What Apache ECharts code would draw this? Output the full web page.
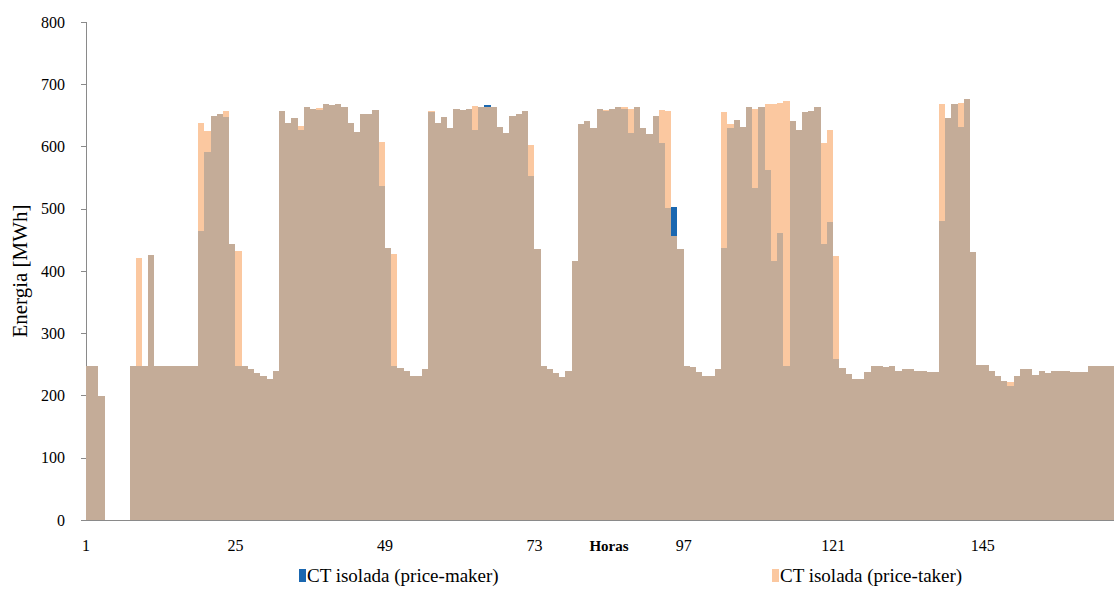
<!DOCTYPE html>
<html>
<head>
<meta charset="utf-8">
<script src="https://cdn.jsdelivr.net/npm/echarts@6/dist/echarts.min.js"></script>
<style>
  html, body { margin: 0; padding: 0; background: #ffffff; }
  #chart { width: 1114px; height: 589px; }
  /* hard pixel edges so neighbouring bars join without seams */
  #chart svg path { shape-rendering: crispEdges; }
</style>
</head>
<body>
<div id="chart"></div>
<script>
// Hourly categories of the week (1 … 168)
const hours = Array.from({ length: 168 }, (_, i) => String(i + 1));

// Hourly energy [MWh], one row per day
const priceMaker = [
  248, 248, 200,   0,   0,   0,   0, 248, 248, 248, 426, 248, 248, 248, 248, 248, 248, 248, 465, 591, 649, 653, 648, 443,
  248, 248, 243, 236, 231, 226, 240, 657, 637, 645, 626, 663, 660, 658, 669, 666, 668, 664, 637, 624, 653, 653, 659, 537,
  437, 248, 244, 239, 232, 232, 243, 655, 637, 647, 629, 660, 658, 661, 627, 664, 667, 664, 632, 621, 649, 653, 657, 553,
  435, 248, 243, 236, 230, 240, 416, 636, 641, 629, 660, 657, 661, 663, 660, 622, 663, 630, 620, 649, 605, 502, 503, 435,
  248, 245, 238, 231, 231, 243, 437, 629, 643, 632, 663, 534, 663, 563, 416, 461, 247, 641, 627, 655, 657, 663, 443, 479,
  259, 244, 235, 226, 226, 237, 248, 248, 246, 248, 240, 242, 242, 240, 240, 237, 237, 480, 645, 668, 632, 676, 430, 249,
  249, 239, 231, 224, 216, 232, 243, 243, 233, 240, 236, 240, 240, 240, 237, 237, 237, 248, 248, 248, 248, 248, 248, 248
];

const priceTaker = [
  248, 248, 200,   0,   0,   0,   0, 248, 421, 248, 426, 248, 248, 248, 248, 248, 248, 248, 637, 625, 649, 653, 657, 443,
  432, 248, 243, 236, 231, 226, 240, 657, 637, 645, 633, 663, 660, 662, 669, 666, 668, 664, 637, 624, 653, 653, 659, 607,
  437, 427, 244, 239, 232, 232, 243, 657, 637, 647, 629, 660, 658, 661, 665, 664, 663, 664, 632, 621, 649, 653, 657, 602,
  435, 248, 243, 236, 230, 240, 416, 636, 641, 629, 660, 659, 661, 663, 663, 661, 663, 630, 620, 649, 658, 657, 456, 435,
  248, 245, 238, 231, 231, 243, 655, 636, 643, 632, 663, 660, 663, 668, 668, 670, 673, 641, 627, 655, 657, 663, 606, 626,
  424, 244, 235, 226, 226, 237, 248, 248, 246, 248, 240, 242, 242, 240, 240, 237, 237, 668, 645, 668, 670, 676, 430, 249,
  249, 239, 231, 224, 221, 232, 243, 243, 233, 240, 236, 240, 240, 240, 237, 237, 237, 248, 248, 248, 248, 248, 248, 248
];

// Y-axis range
const yMin = 0, yMax = 800, yStep = 100;

const MAKER_NAME = 'CT isolada (price-maker)';
const TAKER_NAME = 'CT isolada (price-taker)';

const MAKER_COLOR = '#1a67b0';
const TAKER_COLOR = '#fbc8a0';
const SHARED_COLOR = '#c4ac98';
const AXIS_COLOR = '#8a8a8a';
const FONT = 'Liberation Serif';

// Part of each hour produced under both bidding strategies
const shared = priceMaker.map((v, i) => Math.min(v, priceTaker[i]));

const chart = echarts.init(document.getElementById('chart'), null, { renderer: 'svg' });

const barBase = {
  type: 'bar',
  barGap: '-100%',
  barCategoryGap: '0%',
  animation: false
};

const legendBase = {
  top: 561,
  icon: 'rect', itemWidth: 7, itemHeight: 13,
  textStyle: { fontFamily: FONT, fontSize: 19, color: '#000', padding: [0, 0, 0, -4] }
};

chart.setOption({
  animation: false,
  textStyle: { fontFamily: FONT },
  grid: { left: 86, top: 22, right: -18, bottom: 69, outerBoundsMode: 'none', containLabel: false },
  legend: [
    Object.assign({ data: [MAKER_NAME], left: 294 }, legendBase),
    Object.assign({ data: [TAKER_NAME], left: 767 }, legendBase)
  ],
  xAxis: {
    type: 'category',
    data: hours,
    boundaryGap: true,
    name: 'Horas',
    nameLocation: 'middle',
    nameGap: 18,
    nameMoveOverlap: false,
    nameTextStyle: { fontFamily: FONT, fontSize: 15, fontWeight: 'bold', color: '#000' },
    axisLine: { lineStyle: { color: AXIS_COLOR, width: 1 } },
    axisTick: { interval: 23, length: 5, lineStyle: { color: AXIS_COLOR } },
    axisLabel: {
      interval: 23, margin: 17,
      fontFamily: FONT, fontSize: 16, color: '#000',
      padding: [0, 6, 0, 0]
    },
    splitLine: { show: false }
  },
  yAxis: {
    type: 'value',
    min: yMin, max: yMax, interval: yStep,
    name: 'Energia [MWh]',
    nameLocation: 'middle',
    nameGap: 56,
    nameMoveOverlap: false,
    nameTextStyle: { fontFamily: FONT, fontSize: 21, color: '#000' },
    axisLine: { show: true, lineStyle: { color: AXIS_COLOR, width: 1 } },
    axisTick: { show: true, length: 5, lineStyle: { color: AXIS_COLOR } },
    axisLabel: { margin: 21, fontFamily: FONT, fontSize: 16, color: '#000' },
    splitLine: { show: false }
  },
  series: [
    Object.assign({}, barBase, {
      name: TAKER_NAME,
      data: priceTaker,
      itemStyle: { color: TAKER_COLOR }
    }),
    Object.assign({}, barBase, {
      name: MAKER_NAME,
      data: priceMaker,
      itemStyle: { color: MAKER_COLOR }
    }),
    Object.assign({}, barBase, {
      name: 'shared',
      data: shared,
      silent: true,
      itemStyle: { color: SHARED_COLOR }
    })
  ]
});
</script>
</body>
</html>
